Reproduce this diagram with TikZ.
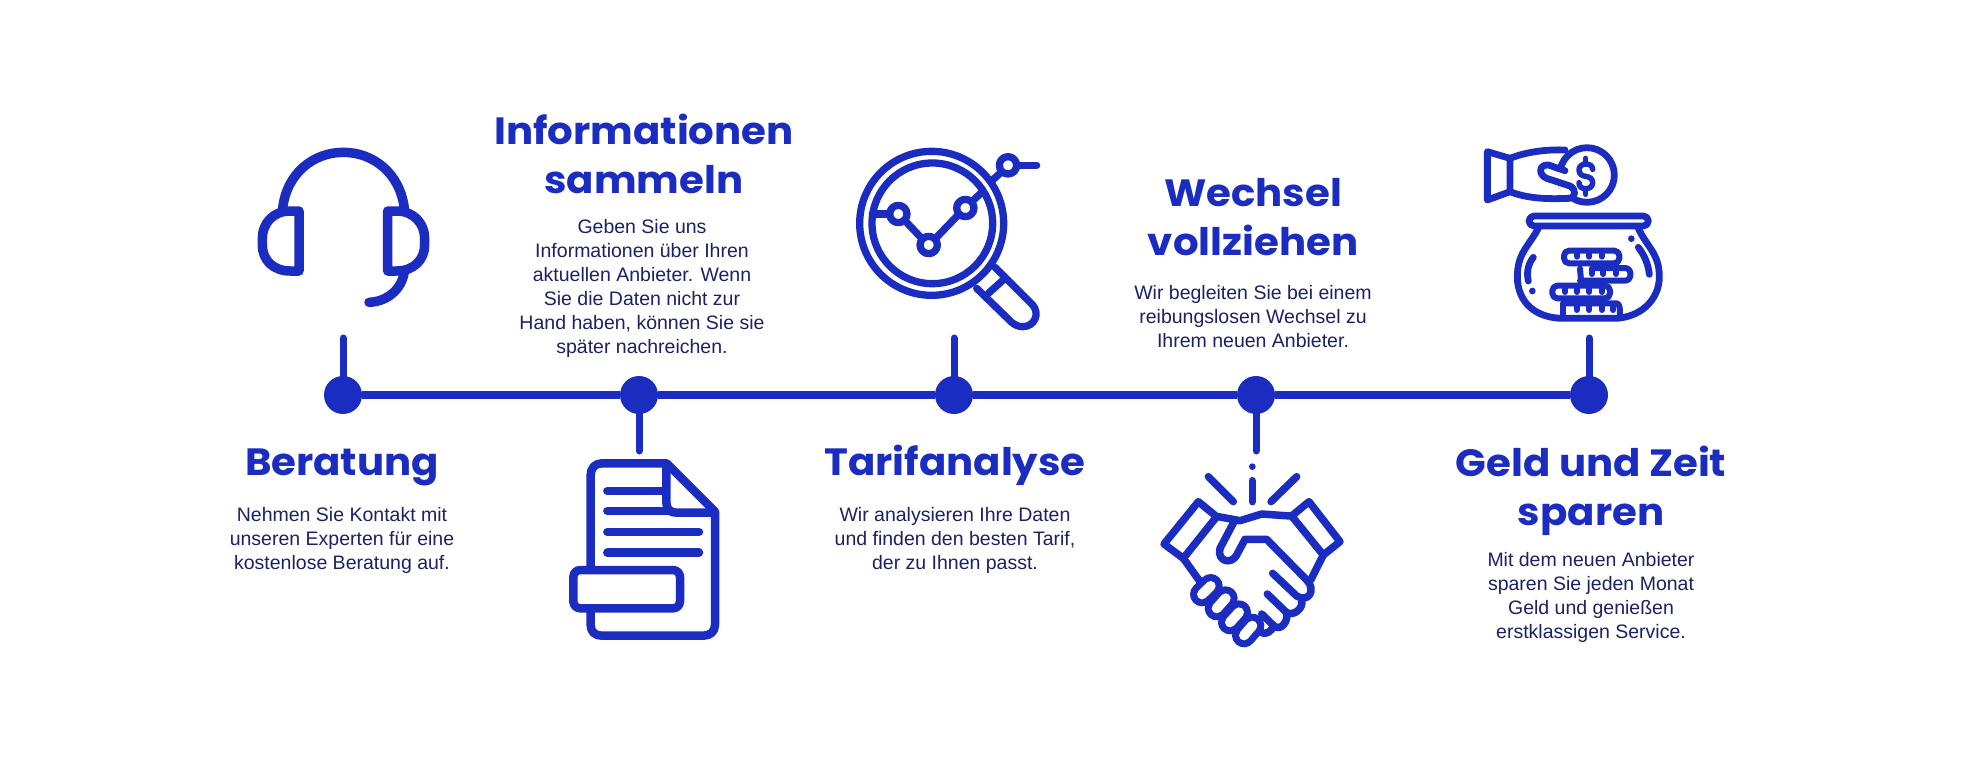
\documentclass[tikz,border=0pt]{standalone}
\usepackage{fontspec}
\setmainfont{Liberation Sans}
\newfontfamily\titlefont[FakeStretch=1.06]{Poppins}
\definecolor{brand}{HTML}{1B2CC1}
\definecolor{bodyink}{HTML}{1C2163}
\tikzset{
  ico/.style={draw=brand,line cap=round,line join=round,line width=#1},
  ico/.default=8.5pt,
  dotnode/.style={circle,fill=brand,inner sep=0pt,minimum size=38pt},
  headtext/.style={anchor=base,align=center,inner sep=0pt,text=brand,font=\titlefont\bfseries\fontsize{38}{48.5}\selectfont},
  bodytext/.style={anchor=base,align=center,inner sep=0pt,text=bodyink,font=\fontsize{19.5}{24}\selectfont},
  stem/.style={draw=brand,line width=7pt,line cap=round},
  axis/.style={draw=brand,line width=8pt},
  zoomed/.style={shift={#1},scale=1/3}
}
\begin{document}
\begin{tikzpicture}[x=1pt,y=-1pt]
\useasboundingbox (0,0) rectangle (1965,779);
\fill[white] (0,0) rectangle (1965,779);

% timeline
\node[dotnode] (d1) at (343,395) {};
\node[dotnode] (d2) at (639,395) {};
\node[dotnode] (d3) at (954,395) {};
\node[dotnode] (d4) at (1256,395) {};
\node[dotnode] (d5) at (1589,395) {};
\coordinate (s1) at (343,338);
\coordinate (s2) at (639,451);
\coordinate (s3) at (954,338);
\coordinate (s4) at (1256,451);
\coordinate (s5) at (1589,338);
\draw[axis] (d1) -- (d2) -- (d3) -- (d4) -- (d5);
\foreach \i in {1,...,5} \draw[stem] (d\i.center) -- (s\i);

% headset
\begin{scope}[zoomed={(220,120)},ico=9.5pt]
\draw (188,265) .. controls (200,160) and (280,97) .. (370,97) .. controls (460,97) and (540,160) .. (553,265);
\draw (237,273) -- (237,453) -- (210,453) .. controls (160,453) and (127,420) .. (127,375) -- (127,355) .. controls (127,310) and (160,273) .. (210,273) -- cycle;
\draw (503,273) -- (503,453) -- (530,453) .. controls (580,453) and (614,420) .. (614,375) -- (614,355) .. controls (614,310) and (580,273) .. (530,273) -- cycle;
\draw (553,455) .. controls (545,510) and (500,545) .. (447,547);
\end{scope}

% document
\begin{scope}[zoomed={(550,430)},ico=8.5pt]
\draw (122,410) -- (122,135) .. controls (122,115) and (135,100) .. (155,100) -- (350,100) -- (495,245) -- (495,585) .. controls (495,605) and (480,617) .. (460,617) -- (155,617) .. controls (135,617) and (122,605) .. (122,585) -- (122,540);
\draw (349,105) -- (349,215) .. controls (350,240) and (360,248) .. (380,248) -- (495,248);
\draw (172,183) -- (340,183);
\draw (172,243) -- (365,243);
\draw (172,306) -- (447,306);
\draw (172,368) -- (447,368);
\draw[rounded corners=7pt] (70,420) rectangle (390,535);
\end{scope}

% magnifier
\begin{scope}[zoomed={(840,130)},ico=7.3pt]
\draw (275,280) circle (216);
\draw (277,280) circle (181);
\draw (175,252) circle (26);
\draw (266,345) circle (26);
\draw (376,234) circle (26);
\draw (504,106) circle (26);
\draw (97,252) -- (149,252);
\draw (193,270) -- (247,327);
\draw (285,327) -- (357,252);
\draw (395,215) -- (428,185);
\draw (458,150) -- (484,126);
\draw (530,106) -- (590,106);
\draw (465,412) -- (578,525) .. controls (600,550) and (585,590) .. (548,590) .. controls (535,590) and (525,585) .. (515,577) -- (410,475);
\draw (445,490) -- (495,445);
\end{scope}

% handshake
\begin{scope}[zoomed={(1140,460)},ico=7.5pt]
\fill[brand] (337,20) circle (10);
\draw (337,62) -- (337,125);
\draw (205,50) -- (280,125);
\draw (470,50) -- (393,125);
\draw (175,125) -- (230,170) -- (130,295) -- (72,252) -- cycle;
\draw (507,125) -- (455,168) -- (550,285) -- (600,245) -- cycle;
\draw (235,170) -- (300,182) -- (365,162) -- (450,168);
\draw (130,295) -- (178,362);
\draw (550,285) -- (512,360);
\draw (285,180) -- (240,265) .. controls (230,305) and (275,315) .. (290,285) -- (315,238) -- (380,238) -- (500,360) .. controls (530,390) and (505,430) .. (470,408) -- (398,340);
\draw (382,402) -- (440,458) .. controls (465,470) and (490,440) .. (485,425);
\draw (365,462) -- (402,498) .. controls (425,515) and (445,480) .. (440,462);
\draw (355,490) .. controls (350,525) and (385,530) .. (400,500);
\foreach \xa/\ya/\xb/\yb in {186/403/212/378, 230/445/257/415, 270/487/297/457, 312/526/337/497}
  \draw[line width=24pt] (\xa,\ya) -- (\xb,\yb);
\foreach \xa/\ya/\xb/\yb in {186/403/212/378, 230/445/257/415, 270/487/297/457, 312/526/337/497}
  \draw[white,line width=10pt] (\xa,\ya) -- (\xb,\yb);
\end{scope}

% money pot
\begin{scope}[zoomed={(1470,130)},ico=6.8pt]
\draw (351,135) circle (82);
\fill[white] (258,125) -- (282,128) -- (300,170) -- (312,192) -- (300,203) -- (280,203) -- (258,150) -- cycle;
\draw (285,122) -- (235,105) .. controls (205,103) and (205,135) .. (230,145) -- (300,168) .. controls (320,178) and (318,205) .. (295,205);
\draw (52,65) -- (120,85) -- (120,185) -- (52,210) -- cycle;
\draw (120,85) .. controls (170,65) and (230,58) .. (285,60);
\draw (120,185) .. controls (170,205) and (230,208) .. (295,205);
% dollar sign
\begin{scope}[ico=5.5pt]
\draw (347,85) -- (347,100);
\draw (347,178) -- (347,193);
\draw (368,118) .. controls (368,105) and (355,102) .. (347,102) .. controls (335,102) and (327,110) .. (327,120) .. controls (327,135) and (340,138) .. (347,139) .. controls (358,141) and (368,145) .. (368,158) .. controls (368,170) and (358,176) .. (347,176) .. controls (335,176) and (327,170) .. (327,158);
\end{scope}
% pot
\draw[rounded corners=5pt] (177,258) rectangle (535,288);
\draw (205,295) .. controls (175,350) and (142,370) .. (142,440) .. controls (142,520) and (200,565) .. (280,565) -- (430,565) .. controls (510,565) and (568,510) .. (568,440) .. controls (568,370) and (530,350) .. (505,295);
\draw (190,382) .. controls (172,405) and (170,430) .. (175,453);
\draw (505,352) .. controls (525,378) and (535,405) .. (538,433);
\fill[brand] (187,483) circle (10);
\fill[brand] (484,326) circle (10);
% coins
\begin{scope}[ico=6pt]
\draw[rounded corners=5pt] (282,362) rectangle (448,400);
\foreach \x in {322,358,395} \draw (\x,366) -- (\x,380);
\draw (370,414) -- (465,414) .. controls (487,414) and (487,452) .. (465,452) -- (330,452);
\draw (330,416) -- (333,450);
\foreach \x in {365,400,438} \draw (\x,416) -- (\x,432);
\draw[rounded corners=5pt] (247,467) rectangle (420,505);
\foreach \x in {285,320,358,395} \draw (\x,470) -- (\x,486);
\draw (280,520) -- (440,520) .. controls (450,522) and (450,535) .. (450,565);
\draw (280,520) -- (280,565);
\foreach \x in {320,358,395,430} \draw (\x,523) -- (\x,540);
\end{scope}
\end{scope}

% texts
\node[headtext] (h1) at (342,475) {Beratung};
\node[bodytext] (b1) at (342,569) {Nehmen Sie Kontakt mit\\unseren Experten für eine\\kostenlose Beratung auf.};
\node[headtext] (h2) at (644,193) {Informationen\\sammeln};
\node[bodytext] (b2) at (642,353) {Geben Sie uns\\Informationen über Ihren\\aktuellen Anbieter. Wenn\\Sie die Daten nicht zur\\Hand haben, können Sie sie\\später nachreichen.};
\node[headtext] (h3) at (955,475) {Tarifanalyse};
\node[bodytext] (b3) at (955,569) {Wir analysieren Ihre Daten\\und finden den besten Tarif,\\der zu Ihnen passt.};
\node[headtext] (h4) at (1253,255) {Wechsel\\vollziehen};
\node[bodytext] (b4) at (1253,347) {Wir begleiten Sie bei einem\\reibungslosen Wechsel zu\\Ihrem neuen Anbieter.};
\node[headtext] (h5) at (1591,525) {Geld und Zeit\\sparen};
\node[bodytext] (b5) at (1591,638) {Mit dem neuen Anbieter\\sparen Sie jeden Monat\\Geld und genießen\\erstklassigen Service.};
\end{tikzpicture}
\end{document}
